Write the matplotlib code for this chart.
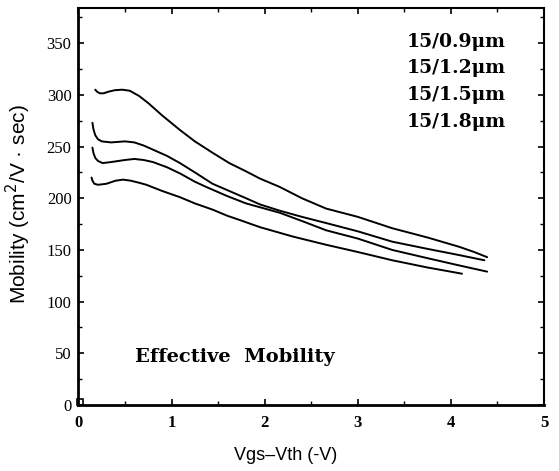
import matplotlib
matplotlib.use("Agg")
import matplotlib.pyplot as plt
from matplotlib.ticker import MultipleLocator

# Data
x_09 = [0.18, 0.20, 0.23, 0.27, 0.32, 0.39, 0.47, 0.55, 0.65, 0.75, 0.90, 1.09, 1.25, 1.44, 1.62, 1.80, 1.95, 2.16, 2.40, 2.66, 3.00, 3.37, 3.75, 4.09, 4.25, 4.39]
y_09 = [305, 303, 301.5, 301.5, 303, 304.5, 305, 304, 299, 292, 280, 266, 255, 244, 234, 226, 219, 211, 200, 190, 182, 171, 162, 153, 148, 143]

x_12 = [0.15, 0.16, 0.18, 0.21, 0.25, 0.35, 0.50, 0.60, 0.70, 0.80, 0.95, 1.09, 1.25, 1.44, 1.62, 1.80, 1.95, 2.16, 2.40, 2.66, 3.00, 3.37, 3.75, 4.09, 4.36]
y_12 = [273, 267, 261, 257, 255, 254, 255, 254, 251, 247, 241, 234, 225, 214, 207, 200, 194, 188, 182, 176, 168, 158, 151, 145, 140]

x_15 = [0.15, 0.16, 0.18, 0.21, 0.26, 0.35, 0.50, 0.60, 0.70, 0.80, 0.95, 1.09, 1.25, 1.37, 1.60, 1.80, 2.00, 2.16, 2.40, 2.66, 3.00, 3.37, 3.75, 4.09, 4.39]
y_15 = [249, 244, 239, 236, 234, 235, 237, 238, 237, 235, 230, 224, 216, 211, 202, 195, 190, 186, 178, 169, 161, 150, 142, 135, 129]

x_18 = [0.14, 0.15, 0.17, 0.21, 0.30, 0.40, 0.48, 0.56, 0.65, 0.73, 0.90, 1.09, 1.25, 1.44, 1.60, 1.73, 1.95, 2.30, 2.66, 3.00, 3.37, 3.75, 4.12]
y_18 = [220, 217, 214, 213, 214, 217, 218, 217, 215, 213, 207, 201, 195, 189, 183, 179, 172, 163, 155, 148, 140, 133, 127]

legend_labels = ["15/0.9\u03bcm", "15/1.2\u03bcm", "15/1.5\u03bcm", "15/1.8\u03bcm"]
x_ticks = [0, 1, 2, 3, 4, 5]
y_ticks = [0, 50, 100, 150, 200, 250, 300, 350]

fig = plt.figure(figsize=(5.59, 4.71), dpi=100)
ax = fig.add_axes([0.1404, 0.1401, 0.8327, 0.8429])

for xs, ys in [(x_09, y_09), (x_12, y_12), (x_15, y_15), (x_18, y_18)]:
    ax.plot(xs, ys, color="black", lw=1.4, solid_capstyle="round", solid_joinstyle="round")

# small square marker at origin
ax.plot([0.02], [3], marker="s", ms=4, mfc="white", mec="black", mew=1.2, clip_on=False)

ax.set_xlim(0, 5)
ax.set_ylim(0, 384)
ax.set_xticks(x_ticks)
ax.set_yticks(y_ticks)
ax.xaxis.set_minor_locator(MultipleLocator(0.5))
ax.yaxis.set_minor_locator(MultipleLocator(25))
ax.tick_params(which="both", direction="in", top=True, right=True)
ax.tick_params(which="major", length=4, width=1.2)
ax.tick_params(which="minor", length=3, width=1.0)
ax.tick_params(axis="y", labelsize=12, pad=5)
ax.tick_params(axis="x", labelsize=12, pad=7)
for lab in ax.get_yticklabels():
    lab.set_fontfamily("Liberation Serif")
for lab in ax.get_xticklabels():
    lab.set_fontfamily("Liberation Serif")
    lab.set_fontweight("bold")

for s in ["left", "bottom"]:
    ax.spines[s].set_linewidth(2.0)
for s in ["top", "right"]:
    ax.spines[s].set_linewidth(1.5)

ax.set_ylabel("Mobility (cm$^2$/V \u00b7 sec)", fontsize=15, family="Liberation Sans")
ax.yaxis.set_label_coords(-0.098, 0.506)
ax.set_xlabel("Vgs\u2013Vth (-V)", fontsize=13, family="Liberation Sans")
ax.xaxis.set_label_coords(0.444, -0.105)

ys_leg = [351, 326, 300, 274]
for lab, yy in zip(legend_labels, ys_leg):
    ax.text(4.59, yy, lab, ha="right", va="center", fontsize=13.5,
            family="DejaVu Serif", fontweight="bold")

ax.text(0.61, 46, "Effective  Mobility", ha="left", va="center", fontsize=14,
        family="DejaVu Serif", fontweight="bold")

fig.savefig("out.png", dpi=100)
